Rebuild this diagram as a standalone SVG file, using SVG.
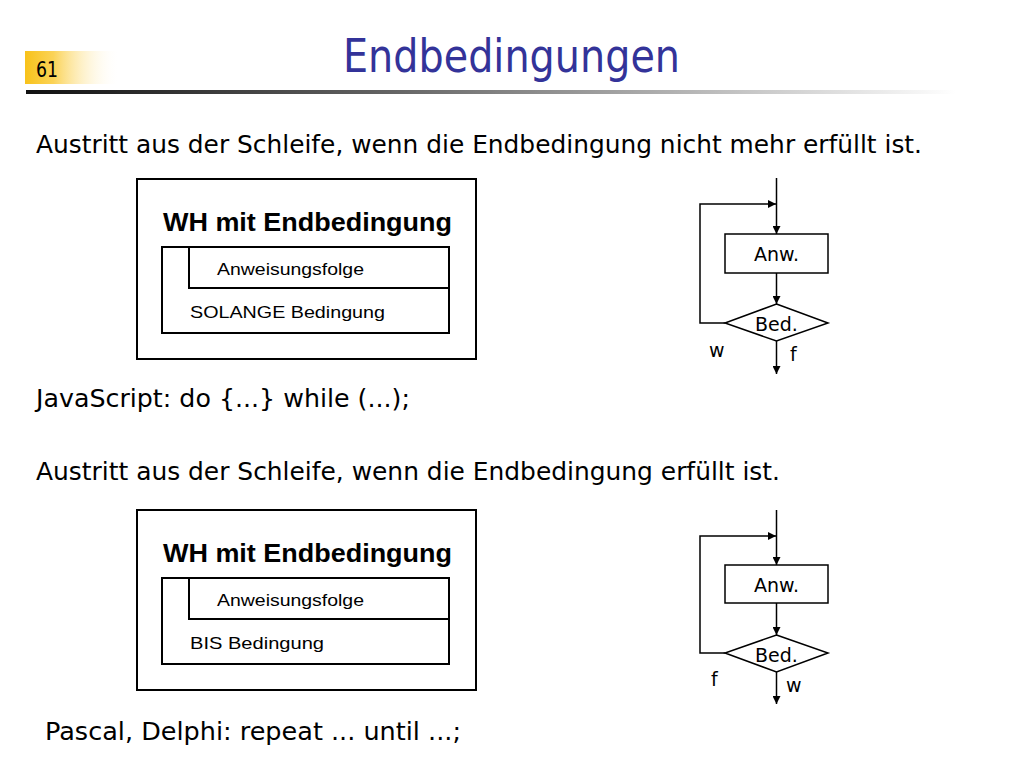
<svg xmlns="http://www.w3.org/2000/svg" width="1024" height="768" viewBox="0 0 1024 768">
<defs>
<linearGradient id="yel" x1="0" y1="0" x2="1" y2="0">
<stop offset="0" stop-color="#f8c21a"/>
<stop offset="0.3" stop-color="#fbd357"/>
<stop offset="1" stop-color="#ffffff" stop-opacity="0"/>
</linearGradient>
<linearGradient id="bar" x1="0" y1="0" x2="1" y2="0">
<stop offset="0" stop-color="#111111"/>
<stop offset="0.4" stop-color="#666666"/>
<stop offset="1" stop-color="#ffffff"/>
</linearGradient>
<marker id="ar" viewBox="0 0 10 10" refX="10" refY="5" markerWidth="8" markerHeight="8" markerUnits="userSpaceOnUse" orient="auto">
<path d="M0,0 L10,5 L0,10 z" fill="#000"/>
</marker>
<style>
.t{font-family:"DejaVu Sans","Liberation Sans",sans-serif;fill:#000}
.main{font-size:25px}
.box{fill:none;stroke:#000;stroke-width:2}
.ln{fill:none;stroke:#000;stroke-width:1.5}
.ar{fill:none;stroke:#000;stroke-width:1.5;marker-end:url(#ar)}
.nsb{font-family:"Liberation Sans",Arial,sans-serif;fill:#000}
.fl{font-family:"DejaVu Sans","Liberation Sans",sans-serif;fill:#000;font-size:19px}
</style>
</defs>
<rect width="1024" height="768" fill="#fff"/>

<g id="header">
<rect x="25" y="51" width="95" height="33" fill="url(#yel)"/>
<text class="t" x="36" y="77" font-size="21" textLength="22" lengthAdjust="spacingAndGlyphs">61</text>
<rect x="26" y="90" width="930" height="4" fill="url(#bar)"/>
<text x="343" y="72" font-family="DejaVu Sans,'Liberation Sans',sans-serif" font-size="46" fill="#333399" textLength="337" lengthAdjust="spacingAndGlyphs">Endbedingungen</text>
</g>

<g id="texts">
<text class="t main" x="36" y="153" textLength="886" lengthAdjust="spacingAndGlyphs">Austritt aus der Schleife, wenn die Endbedingung nicht mehr erfüllt ist.</text>
<text class="t main" x="36" y="407" textLength="374" lengthAdjust="spacingAndGlyphs">JavaScript: do {...} while (...);</text>
<text class="t main" x="36" y="480" textLength="744" lengthAdjust="spacingAndGlyphs">Austritt aus der Schleife, wenn die Endbedingung erfüllt ist.</text>
<text class="t main" x="45" y="740" textLength="416" lengthAdjust="spacingAndGlyphs">Pascal, Delphi: repeat ... until ...;</text>
</g>

<g id="struct1">
<rect class="box" x="137" y="179" width="339" height="180"/>
<text class="nsb" x="163" y="231" font-size="25" font-weight="bold" textLength="289" lengthAdjust="spacingAndGlyphs">WH mit Endbedingung</text>
<rect class="box" x="162" y="247" width="287" height="86"/>
<rect class="box" x="189" y="247" width="260" height="41"/>
<text class="nsb" x="217" y="275" font-size="17" textLength="147" lengthAdjust="spacingAndGlyphs">Anweisungsfolge</text>
<text class="nsb" x="190" y="318" font-size="17" textLength="195" lengthAdjust="spacingAndGlyphs">SOLANGE Bedingung</text>
</g>

<g id="struct2">
<rect class="box" x="137" y="510" width="339" height="180"/>
<text class="nsb" x="163" y="562" font-size="25" font-weight="bold" textLength="289" lengthAdjust="spacingAndGlyphs">WH mit Endbedingung</text>
<rect class="box" x="162" y="578" width="287" height="86"/>
<rect class="box" x="189" y="578" width="260" height="41"/>
<text class="nsb" x="217" y="606" font-size="17" textLength="147" lengthAdjust="spacingAndGlyphs">Anweisungsfolge</text>
<text class="nsb" x="190" y="649" font-size="17" textLength="134" lengthAdjust="spacingAndGlyphs">BIS Bedingung</text>
</g>

<g id="flow1-anw">
<rect class="ln" x="725" y="234" width="103" height="39"/>
<text class="fl" x="776.5" y="261" text-anchor="middle">Anw.</text>
</g>
<g id="flow1-bed">
<polygon class="ln" points="776.5,304 828,323 776.5,341 725,323"/>
<text class="fl" x="776.5" y="331" text-anchor="middle">Bed.</text>
<text class="fl" x="709" y="357">w</text>
<text class="fl" x="790" y="361">f</text>
</g>

<g id="flow2-anw">
<rect class="ln" x="725" y="565" width="103" height="38"/>
<text class="fl" x="776.5" y="592" text-anchor="middle">Anw.</text>
</g>
<g id="flow2-bed">
<polygon class="ln" points="776.5,635 828,653 776.5,672 725,653"/>
<text class="fl" x="776.5" y="662" text-anchor="middle">Bed.</text>
<text class="fl" x="711" y="686">f</text>
<text class="fl" x="786" y="692">w</text>
</g>

<g id="connectors">
<line class="ar" x1="776.5" y1="178" x2="776.5" y2="234"/>
<line class="ar" x1="776.5" y1="273" x2="776.5" y2="304"/>
<polyline class="ar" points="725,323 700,323 700,204 776,204"/>
<line class="ar" x1="776.5" y1="341" x2="776.5" y2="374"/>

<line class="ar" x1="776.5" y1="510" x2="776.5" y2="565"/>
<line class="ar" x1="776.5" y1="603" x2="776.5" y2="635"/>
<polyline class="ar" points="725,653 700,653 700,536 776,536"/>
<line class="ar" x1="776.5" y1="672" x2="776.5" y2="704"/>
</g>
</svg>
